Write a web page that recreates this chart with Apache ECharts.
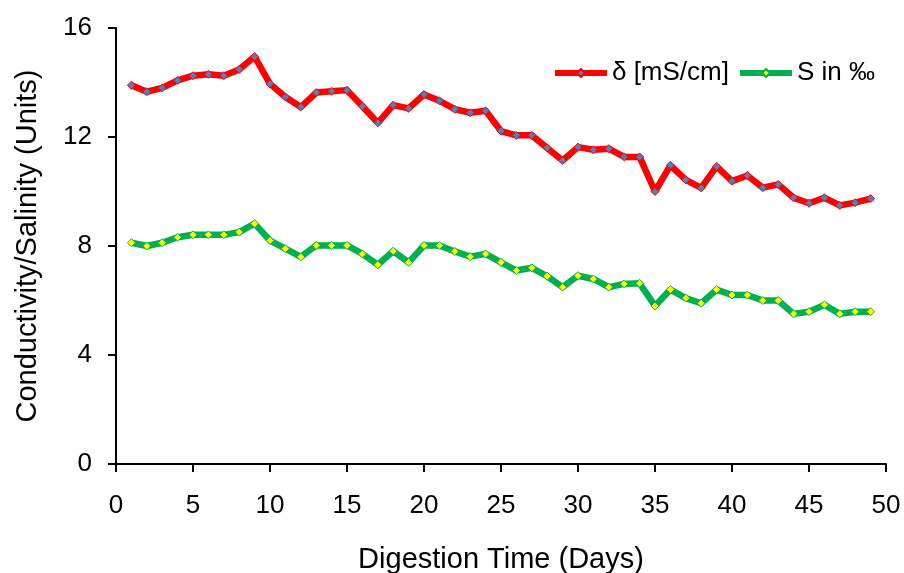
<!doctype html>
<html>
	<head>
		<meta charset="utf-8">
		<title></title>
		<script src="https://cdn.jsdelivr.net/npm/echarts@6/dist/echarts.min.js"></script>
		<style>
			body {
				margin: 0;
				padding: 0;
				background: #fff;
			}
			#lineChart {
				width: 904px;
				height: 573px;
			}
		</style>
	</head>

	<body>
		<div id="lineChart"></div>
	</body>

	<script type="text/javascript">
		//消化天数
		var days = [];
		for (var d = 1; d <= 49; d++) {
			days.push(d);
		}
		//电导率 δ [mS/cm]
		var conductivity = [13.9, 13.66, 13.8, 14.08, 14.25, 14.3, 14.25, 14.48, 14.95, 13.95,
			13.47, 13.1, 13.63, 13.68, 13.72, 13.13, 12.52, 13.17, 13.05, 13.56,
			13.33, 13.02, 12.89, 12.96, 12.22, 12.06, 12.06, 11.6, 11.14, 11.63,
			11.53, 11.57, 11.27, 11.27, 10.0, 10.96, 10.43, 10.13, 10.92, 10.38,
			10.59, 10.14, 10.26, 9.77, 9.57, 9.77, 9.49, 9.59, 9.74];
		//盐度 S in ‰
		var salinity = [8.12, 8.0, 8.12, 8.32, 8.41, 8.41, 8.41, 8.51, 8.82, 8.2,
			7.9, 7.6, 8.02, 8.02, 8.02, 7.71, 7.31, 7.81, 7.4, 8.02,
			8.02, 7.8, 7.61, 7.71, 7.4, 7.1, 7.2, 6.89, 6.49, 6.91,
			6.79, 6.49, 6.61, 6.63, 5.8, 6.4, 6.09, 5.9, 6.4, 6.2,
			6.2, 6.0, 6.0, 5.51, 5.59, 5.84, 5.51, 5.59, 5.59];
		//图例名称
		var seriesNames = ['δ [mS/cm]', 'S in ‰'];
		//线条颜色
		var lineColors = ['#FF0000', '#00B050'];
		//标记颜色
		var markerColors = ['#4F81BD', '#FFFF00'];

		var byId = function(id) {
			return document.getElementById(id);
		};

		var pairUp = function(values) {
			var out = [];
			for (var i = 0; i < days.length; i++) {
				out.push([days[i], values[i]]);
			}
			return out;
		};

		var makeSeries = function(idx, values) {
			return {
				name: seriesNames[idx],
				type: 'line',
				data: pairUp(values),
				symbol: 'diamond',
				symbolSize: 8,
				lineStyle: {
					color: lineColors[idx],
					width: 6.5
				},
				itemStyle: {
					color: markerColors[idx],
					borderColor: lineColors[idx],
					borderWidth: 1
				}
			};
		};

		var font = 'Liberation Sans';
		var lineChart = echarts.init(byId('lineChart'));

		lineChart.setOption({
			animation: false,
			textStyle: {
				fontFamily: font
			},
			grid: {
				left: 116,
				right: 18,
				top: 28,
				bottom: 109,
				containLabel: false,
				outerBoundsMode: 'none'
			},
			legend: {
				data: [{
					name: seriesNames[0],
					lineStyle: { width: 6 }
				}, {
					name: seriesNames[1],
					lineStyle: { width: 6 }
				}],
				right: 24,
				top: 55,
				itemWidth: 52,
				itemHeight: 10,
				itemGap: 8,
				textStyle: {
					fontSize: 26,
					color: '#000',
					fontFamily: font
				}
			},
			xAxis: {
				type: 'value',
				min: 0,
				max: 50,
				interval: 5,
				name: 'Digestion Time (Days)',
				nameLocation: 'middle',
				nameGap: 81,
				nameTextStyle: {
					fontSize: 29,
					color: '#000',
					fontFamily: font
				},
				axisLine: {
					lineStyle: {
						color: '#000',
						width: 2
					}
				},
				axisTick: {
					length: 8,
					lineStyle: {
						color: '#000',
						width: 2
					}
				},
				axisLabel: {
					fontSize: 26,
					color: '#000',
					margin: 29
				},
				splitLine: {
					show: false
				}
			},
			yAxis: {
				type: 'value',
				min: 0,
				max: 16,
				interval: 4,
				name: 'Conductivity/Salinity (Units)',
				nameLocation: 'middle',
				nameGap: 74,
				nameTextStyle: {
					fontSize: 29,
					color: '#000',
					fontFamily: font
				},
				axisLine: {
					show: true,
					lineStyle: {
						color: '#000',
						width: 2
					}
				},
				axisTick: {
					show: true,
					length: 8,
					lineStyle: {
						color: '#000',
						width: 2
					}
				},
				axisLabel: {
					fontSize: 26,
					color: '#000',
					margin: 24
				},
				splitLine: {
					show: false
				}
			},
			series: [makeSeries(0, conductivity), makeSeries(1, salinity)]
		});
	</script>

</html>
